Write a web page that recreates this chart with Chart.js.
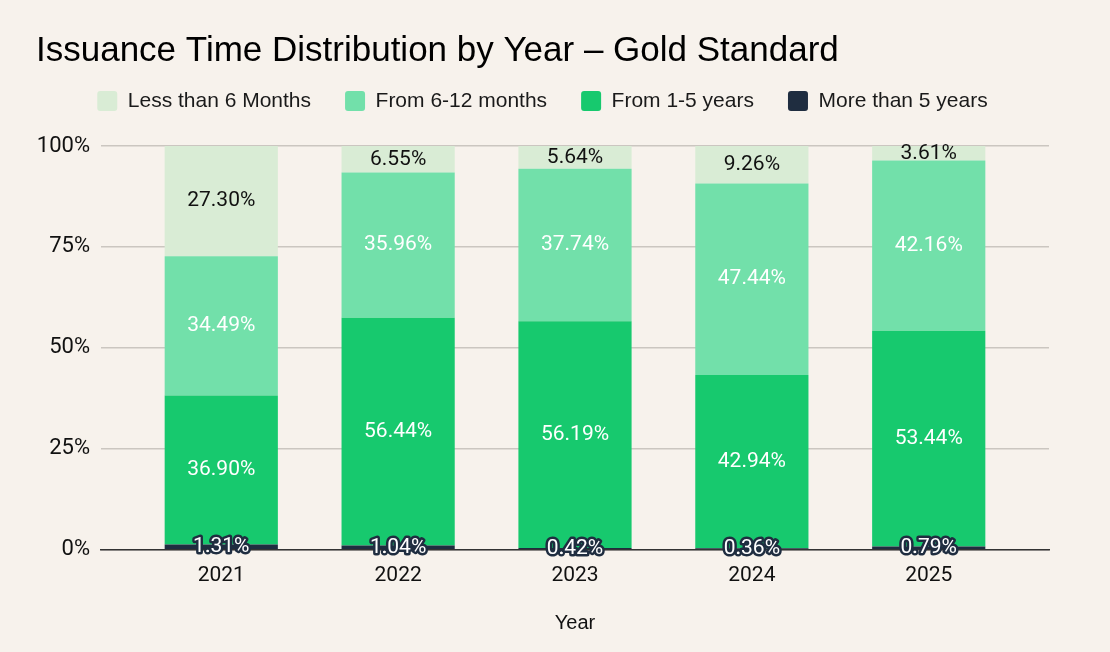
<!DOCTYPE html>
<html>
<head>
<meta charset="utf-8">
<script src="https://cdn.jsdelivr.net/npm/chart.js@4.4.1/dist/chart.umd.min.js"></script>
<style>
  html, body { margin: 0; padding: 0; background: #f7f2ec; }
  #wrap { width: 1110px; height: 652px; }
</style>
</head>
<body>
<div id="wrap"><canvas id="chart"></canvas></div>
<script>
// Data
const years = ['2021', '2022', '2023', '2024', '2025'];
const lessThan6Months = [27.30, 6.55, 5.64, 9.26, 3.61];
const from6To12Months = [34.49, 35.96, 37.74, 47.44, 42.16];
const from1To5Years = [36.90, 56.44, 56.19, 42.94, 53.44];
const moreThan5Years = [1.31, 1.04, 0.42, 0.36, 0.79];
const yTickStep = 25;

// Percent labels in the middle of each segment
const segmentLabels = {
  id: 'segmentLabels',
  afterDatasetsDraw(chart) {
    const ctx = chart.ctx;
    ctx.save();
    ctx.font = '21px Roboto';
    ctx.textAlign = 'center';
    ctx.textBaseline = 'middle';
    chart.data.datasets.forEach((ds, i) => {
      const meta = chart.getDatasetMeta(i);
      meta.data.forEach((bar, j) => {
        const txt = ds.data[j].toFixed(2) + '%';
        const y = (bar.y + bar.base) / 2;
        if (ds.labelStroke) {
          ctx.lineWidth = 5;
          ctx.lineJoin = 'round';
          ctx.strokeStyle = ds.labelStroke;
          ctx.strokeText(txt, bar.x, y);
        }
        ctx.fillStyle = ds.labelColor;
        ctx.fillText(txt, bar.x, y);
      });
    });
    ctx.restore();
  }
};

// Extra gap under the legend
const legendGap = {
  id: 'legendGap',
  beforeInit(chart) {
    const fit = chart.legend.fit;
    chart.legend.fit = function () {
      fit.bind(chart.legend)();
      this.height += 24.5;
    };
  }
};

const ctx = document.getElementById('chart').getContext('2d');
new Chart(ctx, {
  type: 'bar',
  data: {
    labels: years,
    datasets: [{
      label: 'More than 5 years',
      data: moreThan5Years,
      backgroundColor: '#1f2d40',
      labelColor: '#ffffff',
      labelStroke: '#1f2d40'
    }, {
      label: 'From 1-5 years',
      data: from1To5Years,
      backgroundColor: '#17c96e',
      labelColor: '#ffffff'
    }, {
      label: 'From 6-12 months',
      data: from6To12Months,
      backgroundColor: '#72e0aa',
      labelColor: '#ffffff'
    }, {
      label: 'Less than 6 Months',
      data: lessThan6Months,
      backgroundColor: '#d9ecd5',
      labelColor: '#111111'
    }]
  },
  options: {
    responsive: true,
    maintainAspectRatio: false,
    animation: false,
    categoryPercentage: 1,
    barPercentage: 0.64,
    layout: {
      padding: { top: 18, left: 36, right: 61, bottom: 10 }
    },
    plugins: {
      title: {
        display: true,
        text: 'Issuance Time Distribution by Year – Gold Standard',
        align: 'start',
        color: '#000000',
        font: { family: 'Liberation Sans', size: 35, weight: 'normal' },
        padding: { top: 12, bottom: -15.5 }
      },
      legend: {
        reverse: true,
        labels: {
          color: '#1a1a1a',
          font: { family: 'Liberation Sans', size: 21 },
          boxWidth: 20,
          boxHeight: 20,
          useBorderRadius: true,
          borderRadius: 3,
          padding: 34
        }
      },
      tooltip: { enabled: false }
    },
    scales: {
      x: {
        stacked: true,
        grid: { display: false, drawTicks: false },
        border: { color: '#333333', width: 1.5 },
        ticks: { color: '#111111', font: { family: 'Roboto', size: 21 }, padding: 13 },
        title: {
          display: true,
          text: 'Year',
          color: '#111111',
          font: { family: 'Liberation Sans', size: 20 },
          padding: { top: 10, bottom: 7 }
        },
        afterBuildTicks(scale) {
          // wider side margins than the default half category
          scale._startValue -= 0.18;
          scale._valueRange += 0.36;
        }
      },
      y: {
        stacked: true,
        min: 0,
        max: 100,
        grid: { color: '#cbc6c0', lineWidth: 1.5, drawTicks: false },
        border: { display: false },
        ticks: {
          stepSize: yTickStep,
          color: '#111111',
          font: { family: 'Roboto', size: 22 },
          padding: 11,
          callback: v => v + '%'
        },
        afterFit(scale) { scale.width = 65; }
      }
    }
  },
  plugins: [segmentLabels, legendGap]
});
</script>
</body>
</html>
